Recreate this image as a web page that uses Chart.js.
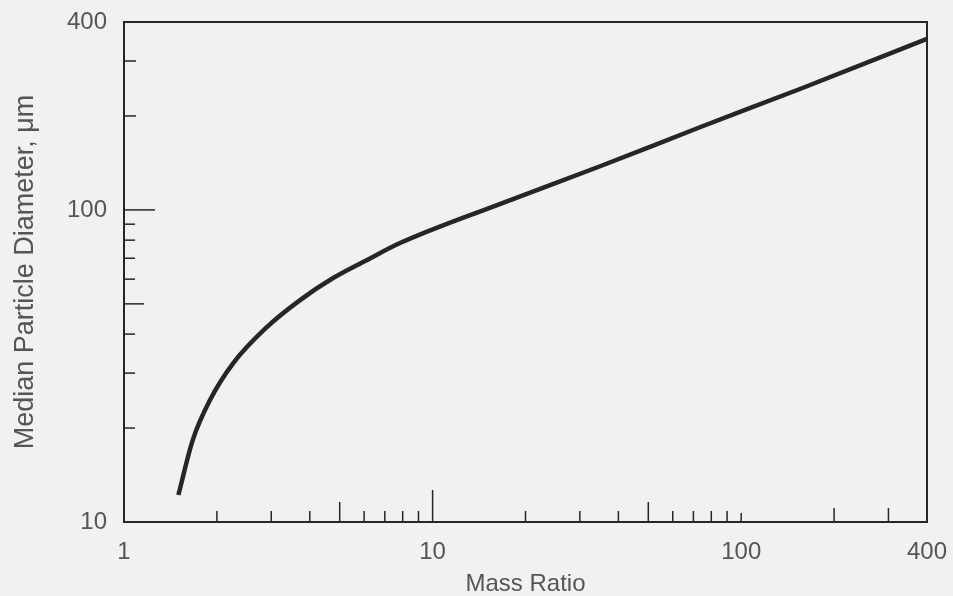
<!DOCTYPE html>
<html lang="en">
<head>
    <meta charset="UTF-8">
    <title>Median Particle Diameter vs Mass Ratio</title>
    <script src="https://cdn.jsdelivr.net/npm/chart.js"></script>
    <style>
        body {
            margin: 0;
            padding: 0;
            background-color: #f1f1ef;
        }
        .wrap {
            width: 953px;
            height: 596px;
        }
    </style>
</head>
<body>

<div class="wrap">
    <canvas id="massChart" width="953" height="596"></canvas>
</div>

<script>
    // values
    const massRatio = [1.5, 1.67, 1.9, 2.26, 2.91, 3.72, 4.76, 6.13, 7.84, 16.5, 34.9, 73.5, 155, 400];
    const diameter = [12.2, 18.3, 24.6, 32.3, 42.2, 51.4, 60.5, 69.1, 78.3, 104.4, 138, 184, 244, 353];

    const xTicks = [1, 2, 3, 4, 5, 6, 7, 8, 9, 10, 20, 30, 40, 50, 60, 70, 80, 90, 100, 200, 300, 400];
    const xLabels = [1, 10, 100, 400];
    const yTicks = [10, 20, 30, 40, 50, 60, 70, 80, 90, 100, 200, 300, 400];
    const yLabels = [10, 100, 400];

    const ink = '#262626';
    const textGrey = '#555555';
    const face = 'Liberation Sans, Arial, sans-serif';

    // inward tick marks and the frame, placed through the chart's own scales
    const frameTicks = {
        id: 'frameTicks',
        afterDraw(chart) {
            const ctx = chart.ctx;
            const a = chart.chartArea;
            const xs = chart.scales.x;
            const ys = chart.scales.y;
            ctx.save();
            ctx.strokeStyle = ink;
            ctx.lineWidth = 2;
            ctx.strokeRect(a.left, a.top, a.right - a.left, a.bottom - a.top);
            ctx.lineWidth = 1.5;
            xTicks.forEach(v => {
                if (v === 1 || v === 400) return;
                const px = xs.getPixelForValue(v);
                let len = 11;
                if (v === 10) len = 32;
                else if (v === 5 || v === 50) len = 20;
                else if (v === 200 || v === 300) len = 14;
                else if (v === 100) len = 9;
                ctx.beginPath();
                ctx.moveTo(px, a.bottom);
                ctx.lineTo(px, a.bottom - len);
                ctx.stroke();
            });
            yTicks.forEach(v => {
                if (v === 10 || v === 400) return;
                const py = ys.getPixelForValue(v);
                let len = 11;
                if (v === 100) len = 31;
                else if (v === 50) len = 20;
                else if (v === 200 || v === 300) len = 12;
                ctx.beginPath();
                ctx.moveTo(a.left, py);
                ctx.lineTo(a.left + len, py);
                ctx.stroke();
            });
            ctx.restore();
        }
    };

    new Chart(document.getElementById('massChart'), {
        type: 'line',
        data: {
            datasets: [{
                data: massRatio.map((m, i) => ({ x: m, y: diameter[i] })),
                borderColor: ink,
                borderWidth: 4.5,
                pointRadius: 0,
                cubicInterpolationMode: 'monotone',
                fill: false
            }]
        },
        options: {
            responsive: false,
            animation: false,
            layout: {
                padding: { top: 22, right: 26, left: 0, bottom: 0 }
            },
            plugins: {
                legend: { display: false },
                tooltip: { enabled: false }
            },
            scales: {
                x: {
                    type: 'logarithmic',
                    min: 1,
                    max: 400,
                    grid: { display: false, drawTicks: false },
                    border: { display: false },
                    afterBuildTicks: s => { s.ticks = xTicks.map(v => ({ value: v })); },
                    afterFit: s => {
                        s.height = 74;
                        s.paddingLeft = 0;
                        s.paddingRight = 0;
                    },
                    ticks: {
                        autoSkip: false,
                        maxRotation: 0,
                        padding: 16,
                        color: textGrey,
                        font: { family: face, size: 24 },
                        callback: v => xLabels.includes(v) ? String(v) : ''
                    },
                    title: {
                        display: true,
                        text: 'Mass Ratio',
                        color: textGrey,
                        padding: { top: 0, bottom: -3 },
                        font: { family: face, size: 24 }
                    }
                },
                y: {
                    type: 'logarithmic',
                    min: 10,
                    max: 400,
                    grid: { display: false, drawTicks: false },
                    border: { display: false },
                    afterBuildTicks: s => { s.ticks = yTicks.map(v => ({ value: v })); },
                    afterFit: s => {
                        s.width = 124;
                        s.paddingTop = 0;
                        s.paddingBottom = 0;
                    },
                    ticks: {
                        autoSkip: false,
                        padding: 17,
                        color: textGrey,
                        font: { family: face, size: 24 },
                        callback: v => yLabels.includes(v) ? String(v) : ''
                    },
                    title: {
                        display: true,
                        text: 'Median Particle Diameter, \u03bcm',
                        color: textGrey,
                        padding: { top: 9, bottom: 0 },
                        font: { family: face, size: 27 }
                    }
                }
            }
        },
        plugins: [frameTicks]
    });
</script>

</body>
</html>
